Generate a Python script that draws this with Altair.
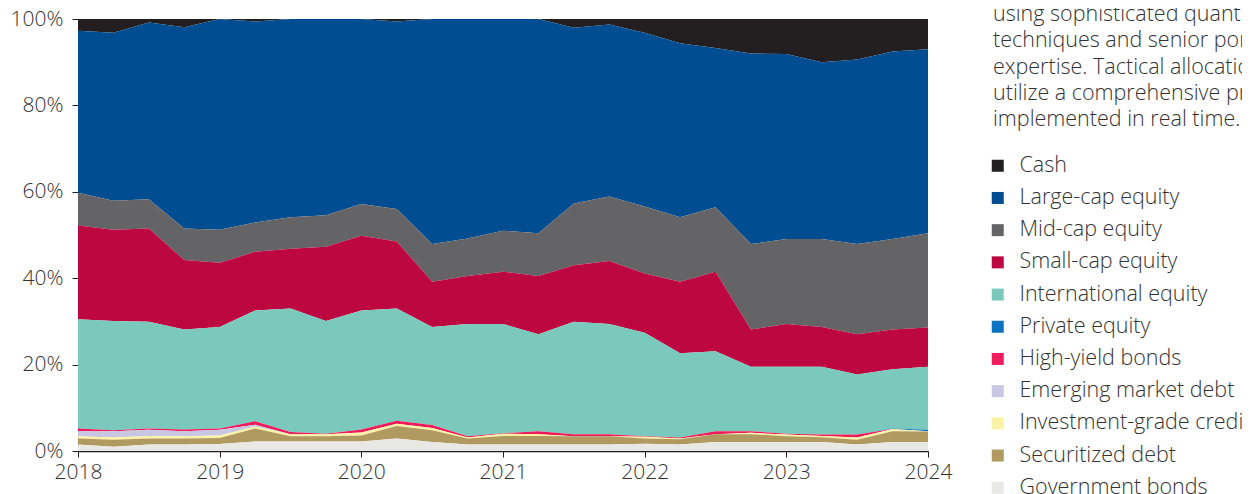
import altair as alt
import pandas as pd

quarters = [2018.0, 2018.25, 2018.5, 2018.75, 2019.0, 2019.25, 2019.5, 2019.75,
            2020.0, 2020.25, 2020.5, 2020.75, 2021.0, 2021.25, 2021.5, 2021.75,
            2022.0, 2022.25, 2022.5, 2022.75, 2023.0, 2023.25, 2023.5, 2023.75, 2024.0]

government_bonds = [1.5, 1.0, 1.5, 1.5, 1.6, 2.2, 2.2, 2.2, 2.2, 2.9, 2.1, 1.5, 1.5,
                    1.5, 1.5, 1.5, 1.7, 1.5, 2.1, 2.1, 2.1, 2.1, 1.5, 2.1, 2.1]
securitized_debt = [1.4, 1.6, 1.4, 1.4, 1.4, 3.0, 1.2, 1.2, 1.4, 2.9, 2.7, 1.4, 2.0,
                    2.0, 1.9, 1.9, 1.2, 1.2, 1.8, 1.8, 1.3, 1.1, 1.1, 2.5, 2.4]
investment_grade = [0.5, 0.5, 0.6, 0.5, 0.6, 0.5, 0.5, 0.5, 0.7, 0.5, 0.5, 0.2, 0.5,
                    0.4, 0.0, 0.0, 0.4, 0.2, 0.0, 0.3, 0.4, 0.3, 0.5, 0.5, 0.1]
emerging_debt = [1.2, 1.5, 1.4, 1.2, 1.3, 0.4, 0.0, 0.0, 0.0, 0.0, 0.0, 0.0, 0.0,
                 0.0, 0.0, 0.0, 0.0, 0.0, 0.0, 0.0, 0.0, 0.0, 0.0, 0.0, 0.0]
high_yield = [0.6, 0.2, 0.3, 0.4, 0.3, 0.8, 0.5, 0.1, 0.7, 0.7, 0.7, 0.3, 0.1,
              0.7, 0.5, 0.5, 0.1, 0.2, 0.7, 0.4, 0.2, 0.3, 0.7, 0.0, 0.0]
private_equity = [0.0, 0.0, 0.0, 0.0, 0.0, 0.0, 0.0, 0.0, 0.0, 0.0, 0.0, 0.0, 0.0,
                  0.0, 0.0, 0.0, 0.0, 0.0, 0.0, 0.0, 0.0, 0.0, 0.0, 0.1, 0.3]
international = [25.3, 25.3, 24.7, 23.1, 23.5, 25.6, 28.6, 26.1, 27.5, 26.0, 22.7, 26.0, 25.3,
                 22.4, 26.0, 25.5, 24.0, 19.5, 18.5, 14.9, 15.5, 15.7, 13.9, 13.7, 14.6]
small_cap = [21.7, 21.1, 21.6, 16.1, 14.9, 13.6, 13.8, 17.2, 17.3, 15.5, 10.5, 11.1, 12.1,
             13.5, 13.1, 14.6, 13.7, 16.6, 18.4, 8.6, 9.9, 9.2, 9.3, 9.2, 9.1]
mid_cap = [7.6, 6.7, 6.8, 7.3, 7.6, 6.8, 7.3, 7.3, 7.4, 7.5, 8.7, 8.7, 9.5,
           9.9, 14.3, 14.9, 15.5, 14.9, 14.9, 19.8, 19.7, 20.4, 20.9, 21.0, 21.8]
large_cap = [37.5, 38.9, 40.9, 46.6, 48.8, 46.5, 45.9, 45.4, 42.8, 43.4, 52.1, 50.8, 49.0,
             49.6, 40.7, 39.8, 40.2, 40.3, 36.9, 44.1, 42.8, 40.9, 42.7, 43.4, 42.6]
cash = [2.7, 3.2, 0.8, 1.9, 0.0, 0.6, 0.0, 0.0, 0.0, 0.6, 0.0, 0.0, 0.0,
        0.0, 2.0, 1.3, 3.2, 5.6, 6.7, 8.0, 8.1, 10.0, 9.4, 7.5, 7.0]

series_names = ["Cash", "Large-cap equity", "Mid-cap equity", "Small-cap equity",
                "International equity", "Private equity", "High-yield bonds",
                "Emerging market debt", "Investment-grade credit", "Securitized debt",
                "Government bonds"]
series_values = [cash, large_cap, mid_cap, small_cap, international, private_equity,
                 high_yield, emerging_debt, investment_grade, securitized_debt,
                 government_bonds]
series_colors = ["#231f20", "#004d91", "#646466", "#bd0741", "#7ac9bc", "#0b74c0",
                 "#ee1c5b", "#c9c6e3", "#faf3a6", "#b09a5f", "#e8e8e4"]

year_ticks = [2018, 2019, 2020, 2021, 2022, 2023, 2024]
pct_ticks = [0, 0.2, 0.4, 0.6, 0.8, 1.0]

note_lines = ["using sophisticated quantitative",
              "techniques and senior portfolio",
              "expertise. Tactical allocations",
              "utilize a comprehensive process",
              "implemented in real time."]

rows = []
n = len(series_names)
for k, (name, vals) in enumerate(zip(series_names, series_values)):
    for q, v in zip(quarters, vals):
        rows.append({"quarter": q, "share": v, "series": name, "stack_order": n - k})
df = pd.DataFrame(rows)

FONT = "Open Sans"
FW = 300
TXT = "#333333"
AX = 21
LG = 21.5

areas = alt.Chart(df).mark_area(interpolate="linear").encode(
    x=alt.X("quarter:Q",
            scale=alt.Scale(domain=[2018, 2024], nice=False, zero=False),
            axis=alt.Axis(values=year_ticks, format="d", title=None, grid=False,
                          labelFlush=False, labelFontSize=AX, labelPadding=4, tickSize=6,
                          domainColor="#231f20", tickColor="#231f20", domainWidth=1.5,
                          labelColor=TXT, labelFont=FONT, labelFontWeight=FW)),
    y=alt.Y("share:Q", stack="normalize",
            scale=alt.Scale(domain=[0, 1], nice=False),
            axis=alt.Axis(values=pct_ticks, format=".0%", title=None, grid=False,
                          labelFlush=False, labelFontSize=AX, labelPadding=9, tickSize=6,
                          domainColor="#231f20", tickColor="#231f20",
                          labelColor=TXT, labelFont=FONT, labelFontWeight=FW)),
    color=alt.Color("series:N",
                    scale=alt.Scale(domain=series_names, range=series_colors),
                    legend=alt.Legend(title=None, orient="none", legendX=909, legendY=136,
                                      symbolType="square", symbolSize=144,
                                      symbolStrokeWidth=0, labelFontSize=LG,
                                      labelFont=FONT, labelFontWeight=FW,
                                      labelColor=TXT, labelOffset=11, rowPadding=9.2,
                                      padding=0, labelLimit=400)),
    order=alt.Order("stack_order:Q", sort="ascending"),
)

note = alt.Chart(pd.DataFrame({"t": ["\n".join(note_lines)]})).mark_text(
    align="left", baseline="alphabetic", lineBreak="\n", lineHeight=26.3,
    fontSize=LG, font=FONT, fontWeight=FW, color=TXT
).encode(text="t:N", x=alt.value(915), y=alt.value(2))

chart = alt.layer(areas, note).properties(
    width=850, height=432,
    padding={"left": 70, "top": 11, "right": 314, "bottom": 43},
    autosize=alt.AutoSizeParams(type="none"),
).configure_view(stroke=None)

chart.save("out.html", embed_options={"renderer": "svg", "actions": False})
